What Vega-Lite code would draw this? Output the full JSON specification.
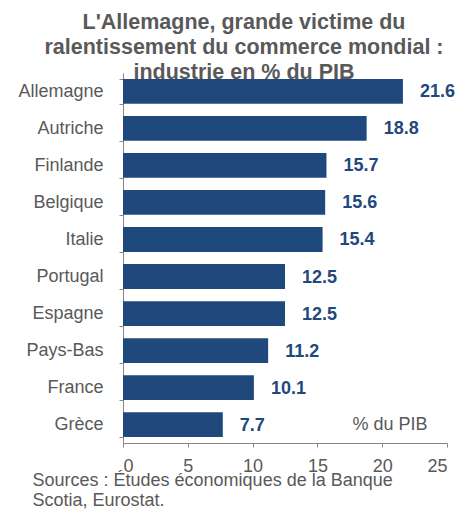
{
  "$schema": "https://vega.github.io/schema/vega-lite/v6.json",
  "autosize": "none",
  "width": 324,
  "height": 370,
  "padding": {"left": 123, "top": 73, "right": 10, "bottom": 73},
  "background": "white",
  "config": {"view": {"stroke": null}, "font": "Liberation Sans"},
  "title": {
    "text": ["L'Allemagne, grande victime du", "ralentissement du commerce mondial :", "industrie en % du PIB"],
    "font": "Liberation Sans",
    "fontSize": 21.5,
    "fontWeight": "bold",
    "color": "#595959",
    "anchor": "middle",
    "frame": "group",
    "dx": -41,
    "lineHeight": 25,
    "offset": -19
  },
  "data": {
    "values": [
      {"pays": "Allemagne", "v": 21.6},
      {"pays": "Autriche", "v": 18.8},
      {"pays": "Finlande", "v": 15.7},
      {"pays": "Belgique", "v": 15.6},
      {"pays": "Italie", "v": 15.4},
      {"pays": "Portugal", "v": 12.5},
      {"pays": "Espagne", "v": 12.5},
      {"pays": "Pays-Bas", "v": 11.2},
      {"pays": "France", "v": 10.1},
      {"pays": "Grèce", "v": 7.7}
    ]
  },
  "encoding": {
    "y": {
      "field": "pays", "type": "nominal", "sort": null,
      "scale": {"paddingInner": 0.33, "paddingOuter": 0.16},
      "axis": {
        "title": null, "tickBand": "extent", "tickSize": 4, "tickColor": "#868686",
        "domainColor": "#868686", "labelFontSize": 18, "labelColor": "#595959",
        "labelPadding": 16, "labelFont": "Liberation Sans"
      }
    }
  },
  "layer": [
    {
      "mark": {"type": "bar", "color": "#1f497d"},
      "encoding": {
        "x": {
          "field": "v", "type": "quantitative",
          "scale": {"domain": [0, 25], "nice": false},
          "axis": {
            "values": [0, 5, 10, 15, 20, 25], "grid": false, "tickSize": 4,
            "tickColor": "#868686", "domainColor": "#868686",
            "labelFontSize": 18, "labelColor": "#595959", "labelPadding": 10,
            "labelFont": "Liberation Sans",
            "title": ["Sources : Études économiques de la Banque", "Scotia, Eurostat."],
            "titleFont": "Liberation Sans", "titleFontSize": 18, "titleFontWeight": "normal",
            "titleColor": "#595959", "titleAnchor": "start", "titleAlign": "left",
            "titleX": -91, "titleY": 42, "titleBaseline": "alphabetic", "titleLineHeight": 20
          }
        }
      }
    },
    {
      "mark": {"type": "text", "align": "left", "dx": 17, "dy": 1, "fontSize": 18, "fontWeight": "bold", "color": "#1f497d", "font": "Liberation Sans"},
      "encoding": {
        "x": {"field": "v", "type": "quantitative"},
        "text": {"field": "v", "type": "quantitative", "format": ".1f"}
      }
    },
    {
      "data": {"values": [{"pays": "Grèce", "pos": 23.5, "t": "% du PIB"}]},
      "mark": {"type": "text", "align": "right", "dy": 0, "fontSize": 18, "color": "#595959", "font": "Liberation Sans"},
      "encoding": {
        "x": {"field": "pos", "type": "quantitative"},
        "text": {"field": "t"}
      }
    }
  ]
}
